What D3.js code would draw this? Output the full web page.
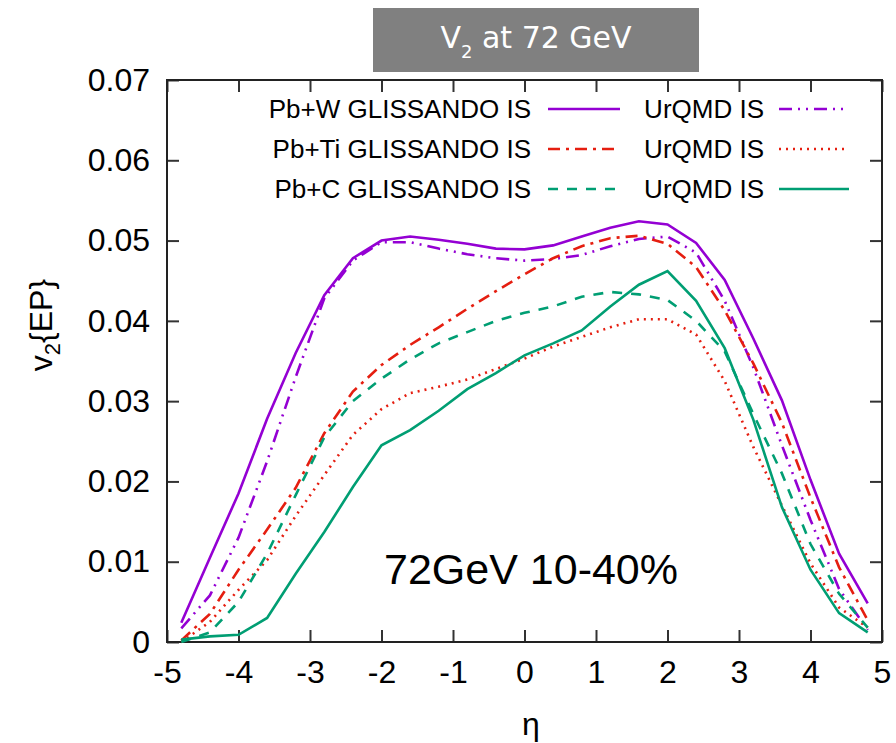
<!DOCTYPE html>
<html>
<head>
<meta charset="utf-8">
<script src="https://cdn.jsdelivr.net/npm/d3@7"></script>
<style>
    body { margin: 0; background: #fff; }
    svg text { font-family: "Liberation Sans", Arial, sans-serif; fill: #000; }
</style>
</head>
<body>
<div id="chart"></div>
<script>
// eta bins
var eta = [-4.8, -4.4, -4.0, -3.6, -3.2, -2.8, -2.4, -2.0, -1.6, -1.2, -0.8, -0.4, 0,
           0.4, 0.8, 1.2, 1.6, 2.0, 2.4, 2.8, 3.2, 3.6, 4.0, 4.4, 4.8];

var pbwGlissando = [0.0024, 0.0105, 0.0185, 0.0278, 0.0360, 0.0432, 0.0478, 0.0500, 0.0505, 0.0501, 0.0496, 0.0490, 0.0489,
                    0.0494, 0.0505, 0.0516, 0.0524, 0.0520, 0.0497, 0.0451, 0.0378, 0.0301, 0.0202, 0.0110, 0.0048];
var pbwUrqmd = [0.0017, 0.0058, 0.0130, 0.0225, 0.0330, 0.0428, 0.0475, 0.0498, 0.0498, 0.0490, 0.0483, 0.0478, 0.0475,
                0.0477, 0.0482, 0.0493, 0.0502, 0.0505, 0.0485, 0.0425, 0.0342, 0.0245, 0.0152, 0.0066, 0.0015];
var pbtiGlissando = [0.0002, 0.0035, 0.0090, 0.0140, 0.0192, 0.0260, 0.0312, 0.0345, 0.0370, 0.0392, 0.0415, 0.0437, 0.0458,
                     0.0478, 0.0493, 0.0503, 0.0506, 0.0496, 0.0467, 0.0413, 0.0347, 0.0273, 0.0180, 0.0093, 0.0027];
var pbtiUrqmd = [0.0000, 0.0025, 0.0065, 0.0102, 0.0157, 0.0208, 0.0258, 0.0290, 0.0310, 0.0318, 0.0327, 0.0340, 0.0353,
                 0.0368, 0.0380, 0.0392, 0.0402, 0.0402, 0.0383, 0.0325, 0.0243, 0.0170, 0.0098, 0.0043, 0.0018];
var pbcGlissando = [0.0000, 0.0012, 0.0050, 0.0110, 0.0183, 0.0255, 0.0300, 0.0328, 0.0352, 0.0372, 0.0386, 0.0400, 0.0410,
                    0.0418, 0.0430, 0.0436, 0.0433, 0.0426, 0.0400, 0.0362, 0.0284, 0.0210, 0.0122, 0.0060, 0.0018];
var pbcUrqmd = [0.0003, 0.0007, 0.0009, 0.0030, 0.0085, 0.0137, 0.0193, 0.0245, 0.0264, 0.0288, 0.0315, 0.0335, 0.0357,
                0.0372, 0.0388, 0.0418, 0.0445, 0.0462, 0.0425, 0.0366, 0.0277, 0.0168, 0.0090, 0.0036, 0.0012];

var xTicks = [-5, -4, -3, -2, -1, 0, 1, 2, 3, 4, 5];
var yTicks = [0, 0.01, 0.02, 0.03, 0.04, 0.05, 0.06, 0.07];

var purple = "#9400d3", red = "#e51e10", green = "#009e73";

// legend rows: left column GLISSANDO, right column UrQMD
var series = [
    {label: "Pb+W GLISSANDO IS", values: pbwGlissando, color: purple, dash: null, row: 0, col: 0},
    {label: "UrQMD IS", values: pbwUrqmd, color: purple, dash: "13,6,2,6,2,6", row: 0, col: 1},
    {label: "Pb+Ti GLISSANDO IS", values: pbtiGlissando, color: red, dash: "12,6,3,6", row: 1, col: 0},
    {label: "UrQMD IS", values: pbtiUrqmd, color: red, dash: "2,5", row: 1, col: 1},
    {label: "Pb+C GLISSANDO IS", values: pbcGlissando, color: green, dash: "10,9", row: 2, col: 0},
    {label: "UrQMD IS", values: pbcUrqmd, color: green, dash: null, row: 2, col: 1}
];

var margin = {top: 80, right: 14, bottom: 101, left: 167};
var width = 896 - margin.left - margin.right;
var height = 743 - margin.top - margin.bottom;

var svg = d3.select("#chart").append("svg")
    .attr("width", 896)
    .attr("height", 743);

// title box
svg.append("rect")
    .attr("x", 373).attr("y", 8)
    .attr("width", 326).attr("height", 64)
    .attr("fill", "#808080");
var title = svg.append("text")
    .attr("x", 536).attr("y", 48)
    .attr("text-anchor", "middle")
    .style("font-family", "'DejaVu Sans', sans-serif")
    .style("font-size", "30px")
    .style("fill", "#fff");
title.append("tspan").text("V");
title.append("tspan").attr("dy", 10).style("font-size", "18px").text("2");
title.append("tspan").attr("dy", -10).text(" at 72 GeV");

var g = svg.append("g").attr("transform", "translate(" + margin.left + "," + margin.top + ")");

var x = d3.scaleLinear().domain([-5, 5]).range([0, width]);
var y = d3.scaleLinear().domain([0, 0.07]).range([height, 0]);

var fmtY = function (d) { return d === 0 ? "0" : d3.format(".2f")(d); };

// axes with inward ticks on all four sides
g.append("g").attr("class", "x axis")
    .attr("transform", "translate(0," + height + ")")
    .call(d3.axisBottom(x).tickValues(xTicks).tickSize(-12).tickPadding(18).tickFormat(function (d) { return String(d); }));
g.append("g").attr("class", "x2 axis")
    .call(d3.axisTop(x).tickValues(xTicks).tickSize(-12).tickFormat(""));
g.append("g").attr("class", "y axis")
    .call(d3.axisLeft(y).tickValues(yTicks).tickSize(-12).tickPadding(17).tickFormat(fmtY));
g.append("g").attr("class", "y2 axis")
    .attr("transform", "translate(" + width + ",0)")
    .call(d3.axisRight(y).tickValues(yTicks).tickSize(-12).tickFormat(""));

g.selectAll(".axis .domain").remove();
g.selectAll(".axis line").attr("stroke", "#333").attr("stroke-width", 2);
g.selectAll(".axis text")
    .style("font-family", "'Liberation Sans', Arial, sans-serif")
    .style("font-size", "32px")
    .attr("fill", "#000");

g.append("rect")
    .attr("width", width).attr("height", height)
    .attr("fill", "none")
    .attr("stroke", "#222")
    .attr("stroke-width", 2);

// curves
var line = d3.line()
    .x(function (d) { return x(d[0]); })
    .y(function (d) { return y(d[1]); });

series.forEach(function (s) {
    g.append("path")
        .datum(eta.map(function (e, i) { return [e, s.values[i]]; }))
        .attr("fill", "none")
        .attr("stroke", s.color)
        .attr("stroke-width", 2.6)
        .attr("stroke-dasharray", s.dash)
        .attr("d", line);
});

// legend
var legend = svg.append("g").attr("class", "legend");
var colText = [531, 764], colLine = [[548, 620], [779, 849]];
series.forEach(function (s) {
    var ly = 109 + s.row * 40;
    legend.append("text")
        .attr("x", colText[s.col]).attr("y", ly)
        .attr("dy", "0.35em")
        .attr("text-anchor", "end")
        .style("font-size", "26px")
        .text(s.label);
    legend.append("line")
        .attr("x1", colLine[s.col][0]).attr("x2", colLine[s.col][1])
        .attr("y1", ly).attr("y2", ly)
        .attr("stroke", s.color)
        .attr("stroke-width", 2.6)
        .attr("stroke-dasharray", s.dash);
});

// annotation
svg.append("text")
    .attr("x", 531).attr("y", 584)
    .attr("text-anchor", "middle")
    .style("font-size", "43px")
    .text("72GeV 10-40%");

// axis labels
var yLabel = svg.append("text")
    .attr("transform", "translate(52,325) rotate(-90)")
    .attr("text-anchor", "middle")
    .style("font-size", "32px");
yLabel.append("tspan").text("v");
yLabel.append("tspan").attr("dy", 8).style("font-size", "22px").text("2");
yLabel.append("tspan").attr("dy", -8).text("{EP}");

svg.append("text")
    .attr("x", 531).attr("y", 735)
    .attr("text-anchor", "middle")
    .style("font-size", "32px")
    .text("η");
</script>
</body>
</html>
